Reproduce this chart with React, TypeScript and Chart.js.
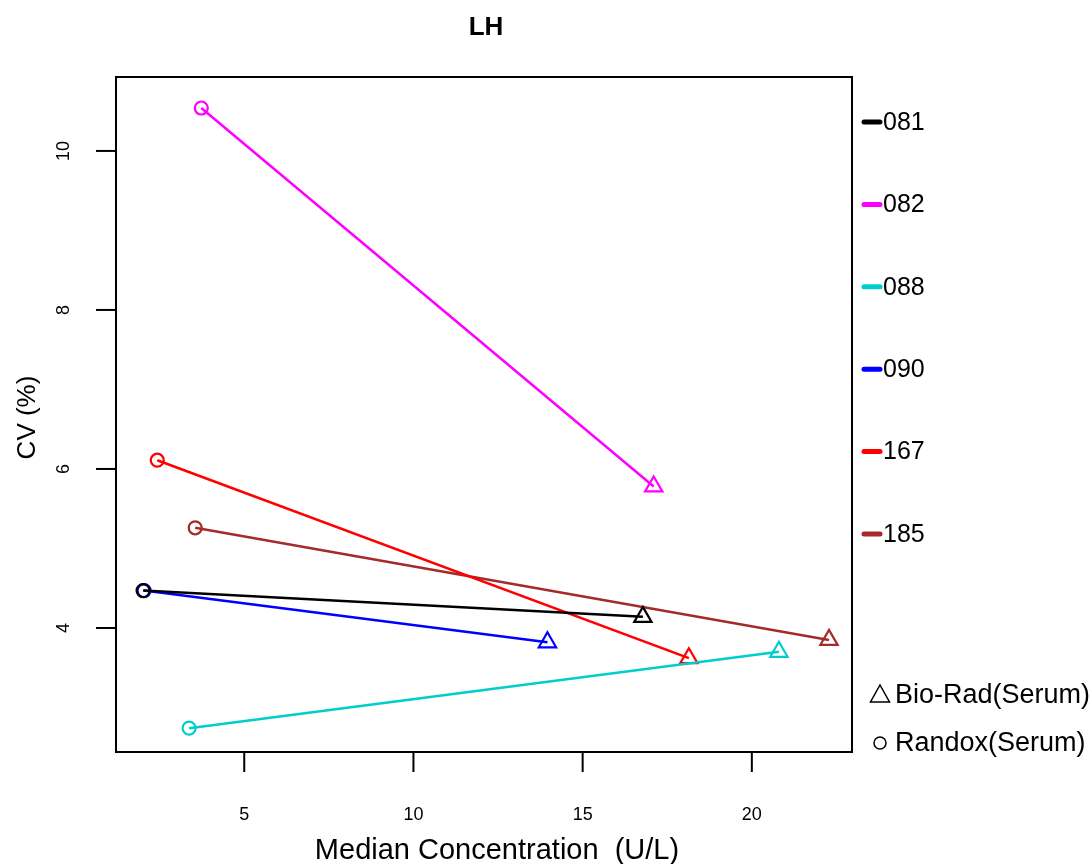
import React, { useEffect, useRef } from "react";
import { Chart, registerables } from "chart.js";

Chart.register(...registerables);

const labs = ["081", "082", "088", "090", "167", "185"];
const colors = ["#000000", "#FF00FF", "#00CDCD", "#0000FF", "#FF0000", "#A52A2A"];
// Randox(Serum) = circle, Bio-Rad(Serum) = triangle
const randoxX = [2.01, 3.73, 3.37, 2.04, 2.43, 3.55];
const randoxY = [4.47, 10.54, 2.74, 4.47, 6.11, 5.26];
const bioradX = [16.78, 17.1, 20.8, 13.96, 18.14, 22.28];
const bioradY = [4.14, 5.78, 3.7, 3.82, 3.62, 3.85];
const xTicks = [5, 10, 15, 20];
const yTicks = [4, 6, 8, 10];
const methods = ["Bio-Rad(Serum)", "Randox(Serum)"];

const FONT = "'Liberation Sans', Arial, sans-serif";

export default function App() {
  const ref = useRef<HTMLCanvasElement | null>(null);
  useEffect(() => {
    document.body.style.margin = "0";
    const ctx = ref.current!.getContext("2d")!;
    const datasets = labs.map((l, i) => ({
      label: l,
      data: [
        { x: randoxX[i], y: randoxY[i] },
        { x: bioradX[i], y: bioradY[i] },
      ],
      showLine: true,
      borderColor: colors[i],
      backgroundColor: "rgba(0,0,0,0)",
      borderWidth: 2.5,
      pointStyle: ["circle", "triangle"],
      pointRadius: [6.5, 10],
      pointBorderWidth: 2.2,
      pointBorderColor: colors[i],
      pointBackgroundColor: "rgba(0,0,0,0)",
    }));

    const decor = {
      id: "decor",
      afterDraw(chart: any) {
        const c = chart.ctx;
        const a = chart.chartArea;
        const xs = chart.scales.x;
        const ys = chart.scales.y;
        c.save();
        c.strokeStyle = "#000";
        c.lineWidth = 2;
        c.strokeRect(a.left, a.top, a.right - a.left, a.bottom - a.top);
        c.fillStyle = "#000";
        // x ticks
        c.font = `18px ${FONT}`;
        c.textAlign = "center";
        c.textBaseline = "middle";
        xTicks.forEach((v) => {
          const px = xs.getPixelForValue(v);
          c.beginPath();
          c.moveTo(px, a.bottom);
          c.lineTo(px, a.bottom + 20);
          c.stroke();
          c.fillText(String(v), px, 815);
        });
        yTicks.forEach((v) => {
          const py = ys.getPixelForValue(v);
          c.beginPath();
          c.moveTo(a.left, py);
          c.lineTo(a.left - 20, py);
          c.stroke();
          c.save();
          c.translate(64, py);
          c.rotate(-Math.PI / 2);
          c.fillText(String(v), 0, 0);
          c.restore();
        });
        // axis titles
        c.font = `29px ${FONT}`;
        c.fillText("Median Concentration  (U/L)", 497, 851);
        c.font = `26px ${FONT}`;
        c.save();
        c.translate(28, (a.top + a.bottom) / 2 + 3);
        c.rotate(-Math.PI / 2);
        c.fillText("CV (%)", 0, 0);
        c.restore();
        // title
        c.font = `bold 26px ${FONT}`;
        c.fillText("LH", 486, 28);
        // legend
        c.textAlign = "left";
        c.font = `25px ${FONT}`;
        labs.forEach((l, i) => {
          const y = 122 + i * 82.4;
          c.strokeStyle = colors[i];
          c.lineWidth = 5;
          c.lineCap = "round";
          c.beginPath();
          c.moveTo(864, y);
          c.lineTo(880, y);
          c.stroke();
          c.fillStyle = "#000";
          c.fillText(l, 883, y + 1);
        });
        c.lineCap = "butt";
        c.strokeStyle = "#000";
        c.lineWidth = 1.5;
        // triangle
        const tx = 880, ty = 695, r = 10;
        c.beginPath();
        c.moveTo(tx, ty - r);
        c.lineTo(tx + r * 0.95, ty + r * 0.7);
        c.lineTo(tx - r * 0.95, ty + r * 0.7);
        c.closePath();
        c.stroke();
        c.beginPath();
        c.arc(880, 743, 6, 0, Math.PI * 2);
        c.stroke();
        c.font = `27px ${FONT}`;
        c.fillText(methods[0], 895, 696);
        c.fillText(methods[1], 895, 744);
        c.restore();
      },
    };

    const chart = new Chart(ctx, {
      type: "scatter",
      data: { datasets },
      options: {
        animation: false,
        responsive: false,
        layout: { padding: { left: 116, right: 239, top: 77, bottom: 112 } },
        plugins: { legend: { display: false }, tooltip: { enabled: false }, title: { display: false } },
        scales: {
          x: { type: "linear", display: false, min: 1.21, max: 22.96 },
          y: { type: "linear", display: false, min: 2.44, max: 10.93 },
        },
      },
      plugins: [decor],
    } as any);
    return () => chart.destroy();
  }, []);
  return (
    <div style={{ position: "fixed", left: 0, top: 0, width: 1091, height: 864, background: "#fff" }}>
      <canvas ref={ref} width={1091} height={864} style={{ display: "block" }} />
    </div>
  );
}
